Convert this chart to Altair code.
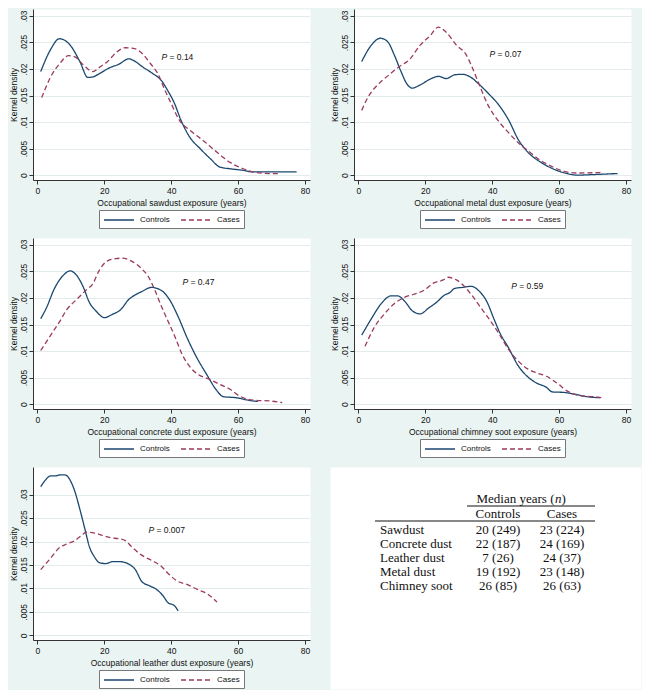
import altair as alt
import pandas as pd

NAVY = "#1a476f"
MAROON = "#9b3a5e"
BG = "#eaf4f2"
FONT = "Liberation Sans"
SERIF = "Liberation Serif"

# ---- Sawdust ----
saw_ctrl_x = [1, 3.9, 6.6, 9.8, 12.7, 15.1, 16.6, 18.5, 21.5, 24.4, 27.3, 29.3, 31.2, 34.1, 37.1, 39, 41, 42.9, 45.4, 48.8, 51.7, 54.6, 57.6, 61.5, 64.4, 70.2, 77.5]
saw_ctrl_y = [0.0195, 0.0236, 0.0257, 0.0245, 0.0214, 0.0184, 0.0185, 0.0191, 0.0202, 0.0209, 0.0219, 0.0214, 0.0205, 0.0193, 0.0178, 0.0159, 0.0135, 0.0104, 0.0073, 0.0049, 0.0031, 0.0015, 0.0012, 0.0009, 0.0006, 0.0006, 0.0006]
saw_case_x = [1.3, 3.9, 6.8, 9.3, 11.2, 13.7, 16.6, 18.5, 21, 23.4, 26.3, 29.3, 31.2, 33.7, 36.1, 38, 40, 42.4, 45.9, 49.8, 53.7, 57.6, 61.5, 65.4, 69.3, 72.7]
saw_case_y = [0.0146, 0.0184, 0.0211, 0.0225, 0.0223, 0.0208, 0.0195, 0.0203, 0.0214, 0.023, 0.024, 0.0238, 0.023, 0.0211, 0.019, 0.0162, 0.0135, 0.0104, 0.0083, 0.0064, 0.0043, 0.0024, 0.0012, 0.0005, 0.0003, 0.0003]

# ---- Metal dust ----
met_ctrl_x = [1, 3.9, 6.6, 8.8, 10.7, 12.7, 14.6, 16.1, 18.5, 21.5, 23.9, 26.3, 28.8, 31.2, 33.7, 36.1, 39, 42, 44.9, 47.8, 50.7, 54.6, 58.5, 62.4, 65.4, 70.2, 77.5]
met_ctrl_y = [0.0214, 0.0245, 0.0258, 0.0251, 0.0227, 0.0196, 0.0171, 0.0164, 0.017, 0.0181, 0.0186, 0.0182, 0.0189, 0.019, 0.0184, 0.0171, 0.0153, 0.0132, 0.0104, 0.0067, 0.0043, 0.0024, 0.0011, 0.0003, 0.0, 0.0001, 0.0003]
met_case_x = [1, 2.9, 5.9, 8.8, 11.7, 15.6, 18.5, 21.5, 23.9, 26.3, 29.3, 32.2, 34.1, 36.1, 39, 42, 44.9, 47.8, 50.7, 53.7, 57.6, 61.5, 65.4, 72.7]
met_case_y = [0.0122, 0.0147, 0.0171, 0.0187, 0.0202, 0.022, 0.0245, 0.0263, 0.0279, 0.0269, 0.0245, 0.0227, 0.0202, 0.0171, 0.0129, 0.0101, 0.008, 0.0061, 0.0046, 0.0031, 0.0017, 0.0007, 0.0004, 0.0005]

# ---- Concrete dust ----
con_ctrl_x = [1, 2.9, 4.9, 7.8, 9.8, 11.7, 13.7, 15.6, 17.6, 20, 22.4, 24.9, 27.3, 29.3, 31.2, 34.1, 37.1, 39.5, 42, 44.9, 47.8, 50.7, 53.7, 55.6, 59.5, 63.4, 65.9]
con_ctrl_y = [0.0161, 0.0184, 0.0215, 0.0243, 0.0251, 0.0243, 0.0221, 0.0191, 0.0175, 0.0163, 0.0169, 0.0178, 0.0197, 0.0206, 0.0212, 0.022, 0.0214, 0.0197, 0.0166, 0.0123, 0.0086, 0.0055, 0.0025, 0.0014, 0.0012, 0.0007, 0.0005]
con_case_x = [1, 3.9, 6.8, 8.8, 11.7, 14.6, 16.6, 18.5, 21, 23.4, 25.4, 28.3, 31.2, 33.2, 35.1, 37.1, 39, 41, 43.4, 45.9, 47.8, 51.7, 54.6, 57.6, 60.5, 65.4, 69.3, 73.2]
con_case_y = [0.0101, 0.0129, 0.0157, 0.0178, 0.0197, 0.0215, 0.0227, 0.0252, 0.027, 0.0274, 0.0275, 0.0269, 0.0255, 0.024, 0.0215, 0.0184, 0.0157, 0.0129, 0.0092, 0.0068, 0.0057, 0.0046, 0.0037, 0.0028, 0.0015, 0.0007, 0.0006, 0.0003]

# ---- Chimney soot ----
chi_ctrl_x = [1, 3.9, 6.8, 9.8, 11.7, 14.1, 16.1, 18.5, 21, 23.4, 25.9, 27.3, 28.8, 31.2, 33.7, 36.1, 38.5, 40.5, 42.4, 44.9, 47.8, 50.2, 53.2, 56.1, 58, 61.5, 64.4, 68.3, 72.2]
chi_ctrl_y = [0.013, 0.0161, 0.0189, 0.0204, 0.0204, 0.0192, 0.0176, 0.017, 0.0181, 0.0192, 0.0206, 0.021, 0.0218, 0.022, 0.0222, 0.0213, 0.0192, 0.0161, 0.0133, 0.0106, 0.0072, 0.0054, 0.004, 0.0032, 0.0023, 0.0022, 0.0019, 0.0014, 0.0012]
chi_case_x = [2, 4.9, 7.8, 10.7, 13.7, 16.6, 19.5, 22.4, 25.4, 26.8, 29.3, 31.2, 33.7, 36.1, 39, 42, 44.9, 47.8, 50.7, 53.2, 56.1, 59.5, 62.9, 66.3, 70.2, 73.2]
chi_case_y = [0.0109, 0.0146, 0.017, 0.0189, 0.0201, 0.0207, 0.0214, 0.0228, 0.0234, 0.0239, 0.0234, 0.0225, 0.0207, 0.0186, 0.0161, 0.0133, 0.0103, 0.0081, 0.0066, 0.0059, 0.0053, 0.0039, 0.0023, 0.0016, 0.0014, 0.0012]

# ---- Leather dust ----
lea_ctrl_x = [1, 2.4, 3.9, 5.4, 6.8, 8.3, 9.8, 11.2, 12.7, 14.1, 15.6, 17.1, 18.5, 20.5, 22.4, 24.9, 27.3, 29.3, 31.2, 33.7, 35.6, 37.6, 39, 41, 42.1]
lea_ctrl_y = [0.0317, 0.0331, 0.034, 0.034, 0.0342, 0.0342, 0.0331, 0.0307, 0.0269, 0.023, 0.0188, 0.0167, 0.0155, 0.0153, 0.0157, 0.0157, 0.0152, 0.014, 0.0115, 0.0105, 0.0098, 0.0084, 0.007, 0.0063, 0.0052]
lea_case_x = [1, 3.9, 6.3, 8.8, 11.2, 13.2, 14.6, 17.1, 19.5, 22, 24.4, 26.3, 28.3, 31.2, 34.1, 37.1, 39.5, 42, 44.9, 47.8, 50.7, 53.7]
lea_case_y = [0.014, 0.0164, 0.0185, 0.0195, 0.0202, 0.0213, 0.022, 0.0218, 0.0213, 0.0208, 0.0206, 0.0202, 0.0188, 0.0171, 0.016, 0.0147, 0.0129, 0.0115, 0.0108, 0.0098, 0.0089, 0.0071]

# ---- annotations / ticks ----
groups = ["Controls", "Cases"]
x_ticks = [0, 20, 40, 60, 80]
y_ticks = [0, 0.005, 0.01, 0.015, 0.02, 0.025, 0.03]
p_values = ["0.14", "0.07", "0.47", "0.59", "0.007"]
p_x = [37.1, 39.2, 43.4, 45.7, 33.2]
p_y = [0.0223, 0.0228, 0.0231, 0.0222, 0.0225]

# ---- table ----
tbl_rows = ["Sawdust", "Concrete dust", "Leather dust", "Metal dust", "Chimney soot"]
tbl_ctrl = ["20 (249)", "22 (187)", "7 (26)", "19 (192)", "26 (85)"]
tbl_case = ["23 (224)", "24 (169)", "24 (37)", "23 (148)", "26 (63)"]

PW = 277
Y_LABEL_EXPR = "datum.value == 0 ? '0' : replace(format(datum.value, '.3~f'), '0.', '.')"


def panel(cx, cy, kx, ky, xtitle, idx, ydom, h):
    df = pd.DataFrame({
        "x": cx + kx,
        "y": cy + ky,
        "grp": [groups[0]] * len(cx) + [groups[1]] * len(kx),
        "ord": list(range(len(cx))) + list(range(len(kx))),
    })
    leg = alt.Legend(
        orient="none", legendX=66, legendY=h + 30, direction="horizontal",
        title=None, fillColor="white", strokeColor="#777", padding=4,
        symbolType="M-1,0H5", symbolSize=100, symbolStrokeWidth=1.3,
        labelFontSize=8, labelFont=FONT, labelColor="#111",
        columnPadding=8, labelOffset=25,
    )
    xs = alt.Scale(domain=[-1.3, 81.5], nice=False, zero=False)
    ys = alt.Scale(domain=ydom, nice=False, zero=False)
    xax = alt.Axis(values=x_ticks, title=xtitle, grid=False, labelPadding=2, titlePadding=4)
    yax = alt.Axis(values=y_ticks, title="Kernel density", labelExpr=Y_LABEL_EXPR, labelAngle=270,
                   labelAlign="center", labelBaseline="bottom", labelOverlap=False,
                   labelPadding=1, titlePadding=1, grid=True, gridColor="#e3ecec")
    lines = alt.Chart(df).mark_line(strokeWidth=1.3, interpolate="monotone").encode(
        x=alt.X("x:Q", scale=xs, axis=xax),
        y=alt.Y("y:Q", scale=ys, axis=yax),
        color=alt.Color("grp:N", scale=alt.Scale(domain=groups, range=[NAVY, MAROON]), legend=leg),
        strokeDash=alt.StrokeDash("grp:N", scale=alt.Scale(domain=groups, range=[[1, 0], [5, 3]]), legend=leg),
        order="ord:Q",
    )
    pdf = pd.DataFrame({"x": [p_x[idx]], "y": [p_y[idx]], "p": ["P"], "v": ["= " + p_values[idx]]})
    t1 = alt.Chart(pdf).mark_text(fontStyle="italic", align="left", baseline="middle",
                                  fontSize=8.5, font=FONT, color="#111").encode(
        x=alt.X("x:Q", scale=xs, axis=xax), y=alt.Y("y:Q", scale=ys, axis=yax), text="p:N")
    t2 = alt.Chart(pdf).mark_text(align="left", baseline="middle", dx=8,
                                  fontSize=8.5, font=FONT, color="#111").encode(
        x=alt.X("x:Q", scale=xs, axis=xax), y=alt.Y("y:Q", scale=ys, axis=yax), text="v:N")
    return alt.layer(lines, t1, t2).properties(width=PW, height=h)


YD = [-0.00092, 0.0313]
H = 171
p1 = panel(saw_ctrl_x, saw_ctrl_y, saw_case_x, saw_case_y, "Occupational sawdust exposure (years)", 0, YD, H)
p2 = panel(met_ctrl_x, met_ctrl_y, met_case_x, met_case_y, "Occupational metal dust exposure (years)", 1, YD, H)
p3 = panel(con_ctrl_x, con_ctrl_y, con_case_x, con_case_y, "Occupational concrete dust exposure (years)", 2, YD, H)
p4 = panel(chi_ctrl_x, chi_ctrl_y, chi_case_x, chi_case_y, "Occupational chimney soot exposure (years)", 3, YD, H)
p5 = panel(lea_ctrl_x, lea_ctrl_y, lea_case_x, lea_case_y, "Occupational leather dust exposure (years)", 4, [-0.001, 0.0359], 173)

# ---- table chart ----
tdf = pd.DataFrame({"row": tbl_rows, "Controls": tbl_ctrl, "Cases": tbl_case})
tlong = tdf.melt(id_vars="row", value_vars=groups, var_name="col", value_name="val")
row_scale = alt.Scale(domain=tbl_rows, type="point", range=[63, 119], padding=0)
col_scale = alt.Scale(domain=groups, type="point", range=[168, 232], padding=0)
TS = 13

t_labels = alt.Chart(tdf).mark_text(align="left", baseline="middle", font=SERIF, fontSize=TS, color="#111").encode(
    x=alt.value(50), y=alt.Y("row:N", scale=row_scale, axis=None), text="row:N")
t_vals = alt.Chart(tlong).mark_text(align="center", baseline="middle", font=SERIF, fontSize=TS, color="#111").encode(
    x=alt.X("col:N", scale=col_scale, axis=None), y=alt.Y("row:N", scale=row_scale, axis=None), text="val:N")
t_head = alt.Chart(pd.DataFrame({"col": groups})).mark_text(align="center", baseline="middle", font=SERIF, fontSize=TS, color="#111").encode(
    x=alt.X("col:N", scale=col_scale, axis=None), y=alt.value(47), text="col:N")
hdr = pd.DataFrame({"a": ["Median years ("], "b": ["n"], "c": [")"]})
t_m1 = alt.Chart(hdr).mark_text(align="right", baseline="middle", font=SERIF, fontSize=TS, color="#111").encode(
    x=alt.value(224.5), y=alt.value(32), text="a:N")
t_m2 = alt.Chart(hdr).mark_text(align="left", baseline="middle", font=SERIF, fontSize=TS, fontStyle="italic", color="#111").encode(
    x=alt.value(225), y=alt.value(32), text="b:N")
t_m3 = alt.Chart(hdr).mark_text(align="left", baseline="middle", font=SERIF, fontSize=TS, color="#111").encode(
    x=alt.value(231.5), y=alt.value(32), text="c:N")
rule_df = pd.DataFrame({"k": [0]})
r1 = alt.Chart(rule_df).mark_rule(color="#111", strokeWidth=1).encode(
    x=alt.value(137), x2=alt.value(265), y=alt.value(39))
r2 = alt.Chart(rule_df).mark_rule(color="#111", strokeWidth=1).encode(
    x=alt.value(45), x2=alt.value(265), y=alt.value(54))
table = alt.layer(t_labels, t_vals, t_head, t_m1, t_m2, t_m3, r1, r2).properties(width=311, height=222)


def ind(c):
    return c.resolve_scale(color="independent", strokeDash="independent").resolve_legend(
        color="independent", strokeDash="independent")


row1 = ind(alt.hconcat(p1, p2, spacing=18))
row2 = ind(alt.hconcat(p3, p4, spacing=18))
row3 = ind(alt.hconcat(p5, table, spacing=18))
chart = ind(alt.vconcat(row1, row2, row3, spacing=8)).properties(
    padding={"left": 0, "top": 0, "right": 0, "bottom": 0}
).configure(background=BG, font=FONT).configure_view(
    fill="white", stroke="transparent"
).configure_axis(
    domainColor="#333", tickColor="#333", labelColor="#111", titleColor="#111",
    labelFontSize=8.5, titleFontSize=8.5, labelFont=FONT, titleFont=FONT,
    titleFontWeight="normal", tickSize=4,
)

chart.save("out.html", embed_options={"renderer": "svg", "actions": False})
